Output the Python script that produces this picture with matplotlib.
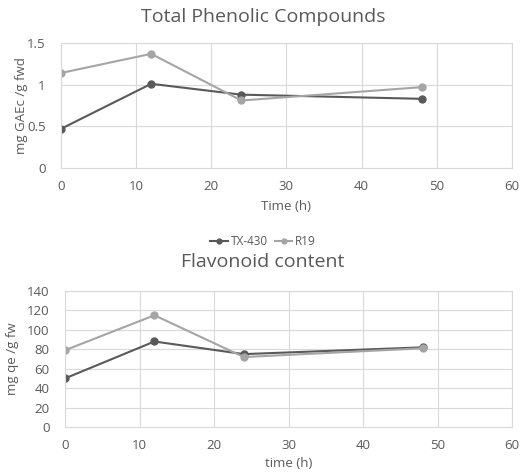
"""Phenolic and flavonoid content over time for two lines."""

import matplotlib
matplotlib.use('Agg')
import matplotlib.pyplot as plt

time_h = [0, 12, 24, 48]

phenolic_tx430 = [0.47, 1.01, 0.88, 0.83]
phenolic_r19 = [1.14, 1.37, 0.81, 0.97]

flavonoid_tx430 = [50, 88, 75, 82]
flavonoid_r19 = [79, 115, 72, 81]

plt.rcParams['font.family'] = ['Open Sans', 'DejaVu Sans']

TEXT = '#595959'
GRID = '#D9D9D9'
DARK = '#595959'
LIGHT = '#A5A5A5'


def style_axes(ax, ylim, yticks, yticklabels):
    ax.set_xlim(0, 60)
    ax.set_ylim(*ylim)
    ax.set_xticks(range(0, 61, 10))
    ax.set_yticks(yticks)
    ax.set_yticklabels(yticklabels)
    ax.grid(True, color=GRID, linewidth=0.8)
    ax.set_axisbelow(True)
    for s in ax.spines.values():
        s.set_color(GRID)
        s.set_linewidth(0.8)
    ax.tick_params(colors=TEXT, labelsize=9.5, length=0)
    ax.tick_params(axis='x', pad=9)
    ax.tick_params(axis='y', pad=11)


fig = plt.figure(figsize=(5.26, 4.74), dpi=100)

# Total phenolic compounds
ax1 = fig.add_axes([0.116, 0.6456, 0.857, 0.2637])
l1, = ax1.plot(time_h, phenolic_tx430, color=DARK, marker='o', markersize=5,
               linewidth=1.5, label='TX-430')
l2, = ax1.plot(time_h, phenolic_r19, color=LIGHT, marker='o', markersize=5,
               linewidth=1.5, label='R19')
style_axes(ax1, (0, 1.5), [0, 0.5, 1, 1.5], ['0', '0.5', '1', '1.5'])
ax1.set_xlabel('Time (h)', color=TEXT, fontsize=9.5, labelpad=5)
ax1.set_ylabel('mg GAEc /g fwd', color=TEXT, fontsize=9.5)
ax1.yaxis.set_label_coords(-0.074, 0.5)
fig.text(0.5, 0.965, 'Total Phenolic Compounds', ha='center', va='center',
         color=TEXT, fontsize=14)

fig.legend(handles=[l1, l2], loc='center', bbox_to_anchor=(0.5, 0.49),
           ncol=2, frameon=False, fontsize=8.5, labelcolor=TEXT,
           handlelength=1.5, handletextpad=0.2, columnspacing=0.6,
           markerscale=0.7)

# Flavonoid content
ax2 = fig.add_axes([0.1236, 0.0992, 0.8498, 0.2869])
ax2.plot(time_h, flavonoid_tx430, color=DARK, marker='o', markersize=5,
         linewidth=1.5)
ax2.plot(time_h, flavonoid_r19, color=LIGHT, marker='o', markersize=5,
         linewidth=1.5)
style_axes(ax2, (0, 140), range(0, 141, 20), [str(v) for v in range(0, 141, 20)])
ax2.set_xlabel('time (h)', color=TEXT, fontsize=9.5, labelpad=3)
ax2.set_ylabel('mg qe /g fw', color=TEXT, fontsize=9.5)
ax2.yaxis.set_label_coords(-0.102, 0.5)
fig.text(0.5, 0.447, 'Flavonoid content', ha='center', va='center',
         color=TEXT, fontsize=14)

fig.savefig('out.png', dpi=100)
